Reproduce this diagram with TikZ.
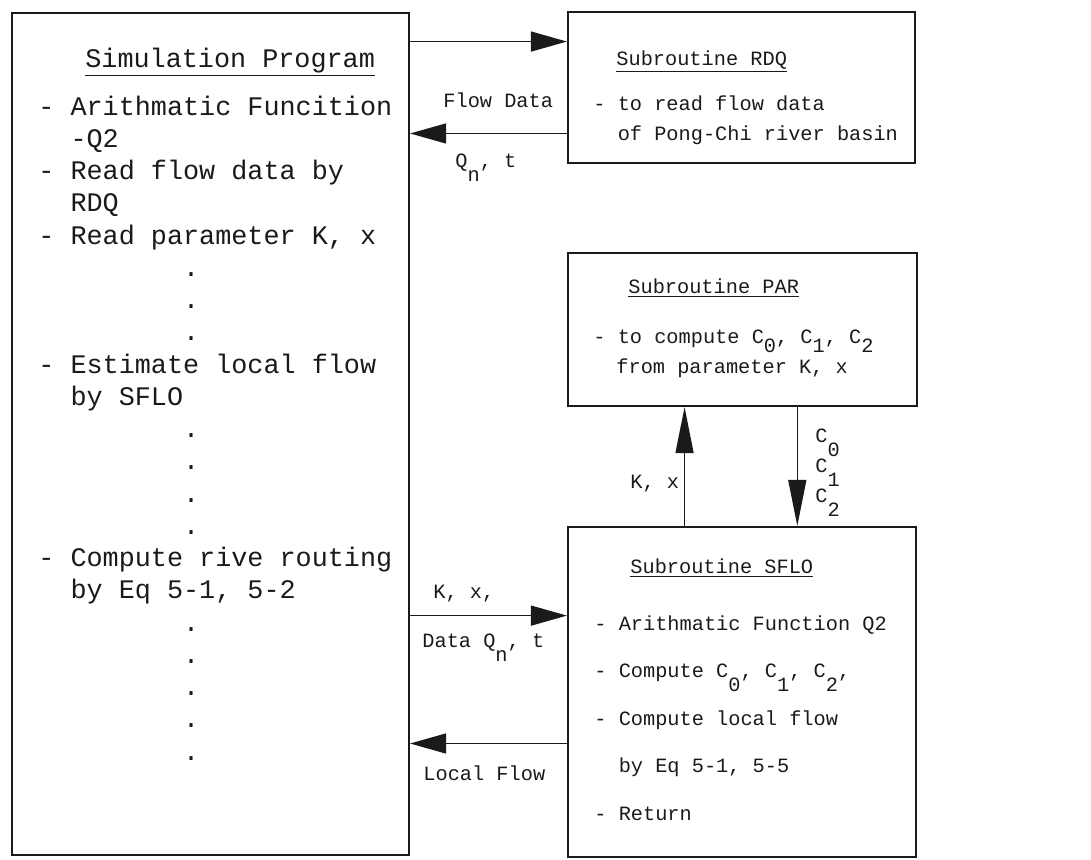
\documentclass[tikz,border=0pt]{standalone}
\usepackage{fontspec}
\setmonofont{Liberation Mono}
\usetikzlibrary{positioning,arrows.meta,calc}
\definecolor{ink}{HTML}{1A1A1A}
\newcommand{\bigtt}{\ttfamily\fontsize{13.4}{16.125}\selectfont}
\newcommand{\smtt}{\ttfamily\fontsize{10.15}{15}\selectfont}
\newcommand{\lo}[2][0.7em]{\raisebox{-#1}{#2}}
\newcommand{\ind}{\hspace*{1.2em}}
\newcommand{\dotrow}{\hspace*{5.4em}.}

\begin{document}
\begin{tikzpicture}[x=0.5pt,y=-0.5pt,
  box/.style={draw=ink,line width=1.1pt,inner sep=0pt},
  txt/.style={inner sep=0pt,anchor=base west,align=left,text=ink,font=\smtt},
  big/.style={txt,font=\bigtt},
  ar/.style={-{Triangle[length=18pt,width=10pt]},draw=ink,line width=0.7pt},
  arv/.style={-{Triangle[length=23pt,width=9pt]},draw=ink,line width=0.7pt}]
\useasboundingbox (0,0) rectangle (1091,859);
% the four blocks
\node[box,minimum width=198.5pt,minimum height=421pt] (sim) at (210.5,434) {};
\node[box,minimum width=173.5pt,minimum height=75.5pt] (rdq) at (741.5,87.5) {};
\node[box,minimum width=174.5pt,minimum height=76.5pt] (par) at (742.5,329.5) {};
\node[box,minimum width=174pt,minimum height=165pt] (sflo) at (742,692) {};
% main program (multi-line texts sit on their last baseline)
\node[big] (simt) at (85,67) {\underline{Simulation Program}};
\node[big] (simx) at (38,760) {- Arithmatic Funcition\\ \ind -Q2\\
  - Read flow data by\\ \ind RDQ\\ - Read parameter K, x\\
  \dotrow\\ \dotrow\\ \dotrow\\ - Estimate local flow\\ \ind by SFLO\\
  \dotrow\\ \dotrow\\ \dotrow\\ \dotrow\\
  - Compute rive routing\\ \ind by Eq 5-1, 5-2\\
  \dotrow\\ \dotrow\\ \dotrow\\ \dotrow\\ \dotrow};
% subroutines
\node[txt] (rdqt) at (616,65) {\underline{Subroutine RDQ}};
\node[txt] (rdqx) at (593,140) {- to read flow data\\ \ind of Pong-Chi river basin};
\node[txt] (part) at (628,293) {\underline{Subroutine PAR}};
\node[txt] (parx) at (593,343) {- to compute C\lo[.45em]{0}, C\lo[.45em]{1}, C\lo[.45em]{2}};
\node[txt] (pary) at (616,373) {from parameter K, x};
\node[txt] (sflot) at (630,573) {\underline{Subroutine SFLO}};
\node[txt,font=\ttfamily\fontsize{10.15}{23.75}\selectfont] (sflox) at (594,820)
  {- Arithmatic Function Q2\\ - Compute C\lo{0}, C\lo{1}, C\lo{2},\\
  - Compute local flow\\ \ind by Eq 5-1, 5-5\\ - Return};
% connectors
\coordinate (r1) at ($(rdq.north west)!.2!(rdq.south west)$);
\coordinate (r2) at ($(rdq.north west)!.8!(rdq.south west)$);
\coordinate (s1) at ($(sflo.north west)!.27!(sflo.south west)$);
\coordinate (s2) at ($(sflo.north west)!.655!(sflo.south west)$);
\coordinate (p1) at ($(par.south west)!.335!(par.south east)$);
\coordinate (p2) at ($(par.south west)!.656!(par.south east)$);
\draw[ar] (sim.east |- r1) -- (r1); \draw[ar] (r2) -- (sim.east |- r2);
\draw[ar] (sim.east |- s1) -- (s1); \draw[ar] (s2) -- (sim.east |- s2);
\draw[arv] (sflo.north -| p1) -- (p1); \draw[arv] (p2) -- (sflo.north -| p2);
% labels
\node[txt] (lfd) at (443,107) {Flow Data}; \node[txt] (lqt) at (455,167) {Q\lo{n}, t};
\node[txt] (lkx) at (433,598) {K, x,}; \node[txt] (ldq) at (422,647) {Data Q\lo{n}, t};
\node[txt] (llf) at (423,780) {Local Flow}; \node[txt] (lkp) at (630,488) {K, x};
\node[txt] (lcc) at (815,502) {C\lo{0}\\ C\lo{1}\\ C\lo{2}};
\end{tikzpicture}
\end{document}
